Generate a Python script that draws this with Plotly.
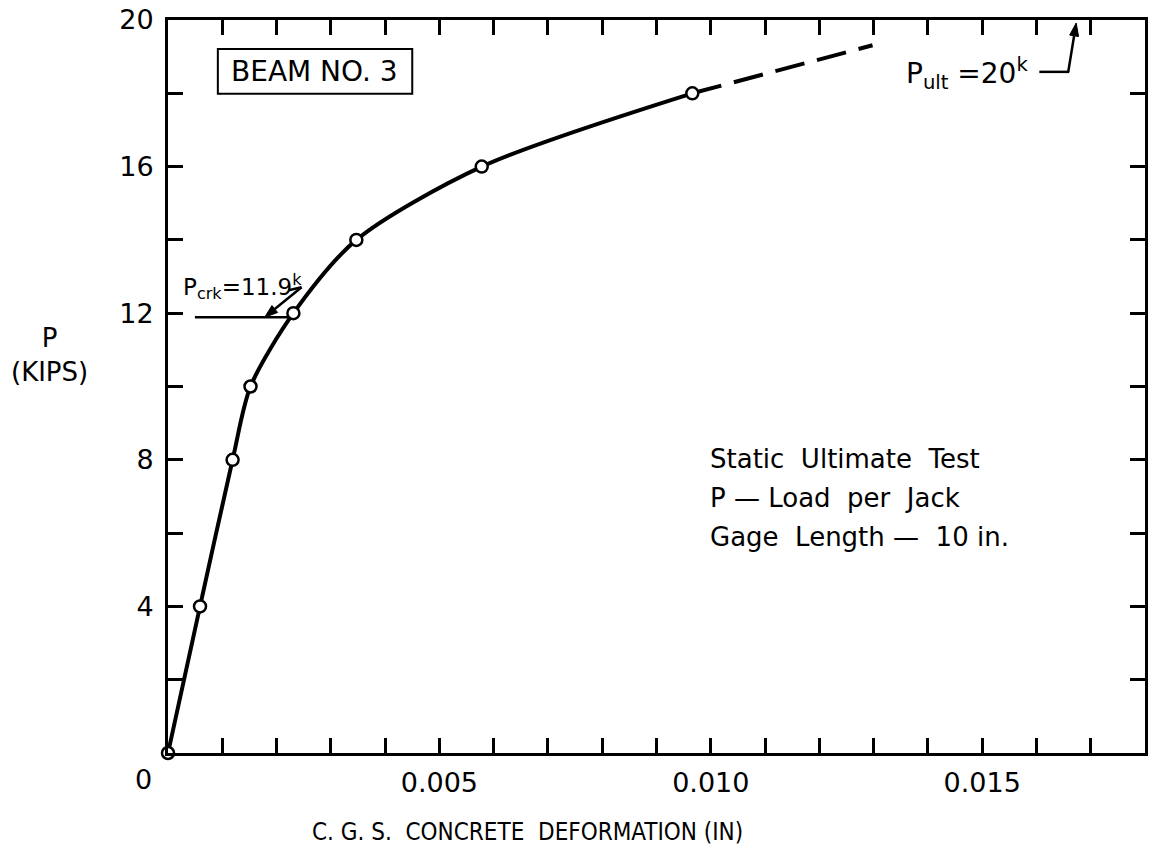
import math
import plotly.graph_objects as go

# ---------------- data ----------------
deformation = [0.0, 0.00059, 0.00119, 0.00152, 0.00231, 0.00347, 0.00578, 0.00966]
load = [0, 4, 8, 10, 12, 14, 16, 18]
ext_deformation = [0.00966, 0.01298]
ext_load = [18, 19.31]

x_major_vals = [0.005, 0.010, 0.015]
x_major_text = ["0.005", "0.010", "0.015"]
x_minor_vals = [0.0, 0.001, 0.002, 0.003, 0.004, 0.005, 0.006, 0.007, 0.008, 0.009,
                0.010, 0.011, 0.012, 0.013, 0.014, 0.015, 0.016, 0.017, 0.018]
y_major_vals = [4, 8, 12, 16, 20]
y_major_text = ["4", "8", "12", "16", "20"]
y_minor_vals = [0, 2, 4, 6, 8, 10, 12, 14, 16, 18, 20]

X_MAX = 0.018
Y_MAX = 20

# ---------------- layout geometry ----------------
W, H = 1152, 851
L, R, T, B = 168, 4, 18, 98
PW = W - L - R
PH = H - T - B
FONT = "DejaVu Sans"
FONT_C = "DejaVu Sans Condensed, DejaVu Sans"


def px(xp):
    return (xp - L) / PW


def py(yp):
    return (H - B - yp) / PH


def arrow_shapes(tail, tip, head_len=13, head_half=4.5, width=2.5):
    """Line plus filled triangular head, given pixel positions."""
    ddx, ddy = tip[0] - tail[0], tip[1] - tail[1]
    n = math.hypot(ddx, ddy)
    ux, uy = ddx / n, ddy / n
    bx, by = tip[0] - head_len * ux, tip[1] - head_len * uy
    nx, ny = -uy, ux
    p1 = (bx + head_half * nx, by + head_half * ny)
    p2 = (bx - head_half * nx, by - head_half * ny)
    path = "M {:.5f},{:.5f} L {:.5f},{:.5f} L {:.5f},{:.5f} Z".format(
        px(tip[0]), py(tip[1]), px(p1[0]), py(p1[1]), px(p2[0]), py(p2[1]))
    return [
        dict(type="line", xref="paper", yref="paper", x0=px(tail[0]), y0=py(tail[1]),
             x1=px(bx), y1=py(by), line=dict(color="black", width=width)),
        dict(type="path", xref="paper", yref="paper", path=path,
             fillcolor="black", line=dict(color="black", width=1)),
    ]


fig = go.Figure()

fig.add_trace(go.Scatter(
    x=deformation, y=load, mode="lines",
    line=dict(color="black", width=4, shape="spline", smoothing=0.8),
    hoverinfo="skip", showlegend=False))

fig.add_trace(go.Scatter(
    x=ext_deformation, y=ext_load, mode="lines",
    line=dict(color="black", width=4, dash="30px,13px"),
    hoverinfo="skip", showlegend=False))

fig.add_trace(go.Scatter(
    x=deformation, y=load, mode="markers",
    marker=dict(size=12, color="white", line=dict(color="black", width=2.5)),
    cliponaxis=False, showlegend=False))

axis_common = dict(
    showgrid=False, zeroline=False, showline=True, linewidth=3, linecolor="black",
    mirror="ticks", ticks="inside", ticklen=15, tickwidth=3, tickcolor="black",
    tickmode="array", tickfont=dict(family=FONT, size=27, color="black"),
)
minor_common = dict(ticks="inside", ticklen=15, tickwidth=3, tickcolor="black", showgrid=False)

fig.update_layout(
    width=W, height=H,
    margin=dict(l=L, r=R, t=T, b=B, pad=0),
    paper_bgcolor="white", plot_bgcolor="white",
    font=dict(family=FONT, color="black", size=24),
    xaxis=dict(range=[0, X_MAX], tickvals=x_major_vals, ticktext=x_major_text,
               ticklabelstandoff=4, minor=dict(tickvals=x_minor_vals, **minor_common),
               **axis_common),
    yaxis=dict(range=[0, Y_MAX], tickvals=y_major_vals, ticktext=y_major_text,
               ticklabelstandoff=6, minor=dict(tickvals=y_minor_vals, **minor_common),
               **axis_common),
)

ann = []
# origin "0"
ann.append(dict(x=px(143), y=py(780), xref="paper", yref="paper", text="0",
                showarrow=False, font=dict(size=27), xanchor="center", yanchor="middle"))
# axis titles
ann.append(dict(x=px(529), y=py(832), xref="paper", yref="paper",
                text="C. G. S.\u00a0 CONCRETE\u00a0 DEFORMATION (IN)",
                showarrow=False, font=dict(family=FONT_C, size=24),
                xanchor="center", yanchor="middle"))
ann.append(dict(x=px(49), y=py(354), xref="paper", yref="paper",
                text="P<br>(KIPS)", showarrow=False, font=dict(size=26),
                xanchor="center", yanchor="middle", align="center"))
# beam label
ann.append(dict(x=px(315), y=py(70), xref="paper", yref="paper", text="BEAM NO. 3",
                showarrow=False, font=dict(size=28), xanchor="center", yanchor="middle"))
# notes
notes = ["Static\u00a0 Ultimate\u00a0 Test",
         "P \u2014 Load\u00a0 per\u00a0 Jack",
         "Gage\u00a0 Length \u2014\u00a0 10 in."]
for i, t in enumerate(notes):
    ann.append(dict(x=px(710), y=py(458 + 39 * i), xref="paper", yref="paper", text=t,
                    showarrow=False, font=dict(size=26), xanchor="left", yanchor="middle"))
# P_ult
ann.append(dict(x=px(906), y=py(72), xref="paper", yref="paper",
                text="P<sub>ult</sub> =20<sup>k</sup>",
                showarrow=False, font=dict(size=28), xanchor="left", yanchor="middle"))
# P_crk
ann.append(dict(x=px(181), y=py(285), xref="paper", yref="paper",
                text="P<sub>crk</sub>=11.9<sup>k</sup>",
                showarrow=False, font=dict(size=23), xanchor="left", yanchor="middle"))
fig.update_layout(annotations=ann)

shapes = [
    dict(type="rect", xref="paper", yref="paper", x0=px(218), x1=px(413), y0=py(47), y1=py(92),
         line=dict(color="black", width=2)),
    dict(type="line", xref="paper", yref="paper", x0=px(1042), x1=px(1072), y0=py(70), y1=py(70),
         line=dict(color="black", width=2.5)),
    dict(type="line", xref="paper", yref="paper", x0=px(195), x1=px(289), y0=py(316), y1=py(316),
         line=dict(color="black", width=2.5)),
    dict(type="line", xref="paper", yref="paper", x0=px(289), x1=px(302), y0=py(289), y1=py(286),
         line=dict(color="black", width=2.5)),
]
shapes += arrow_shapes((1071, 70), (1079, 21))
shapes += arrow_shapes((302, 286), (265, 316))
fig.update_layout(shapes=shapes)

fig.write_html("out.html")
